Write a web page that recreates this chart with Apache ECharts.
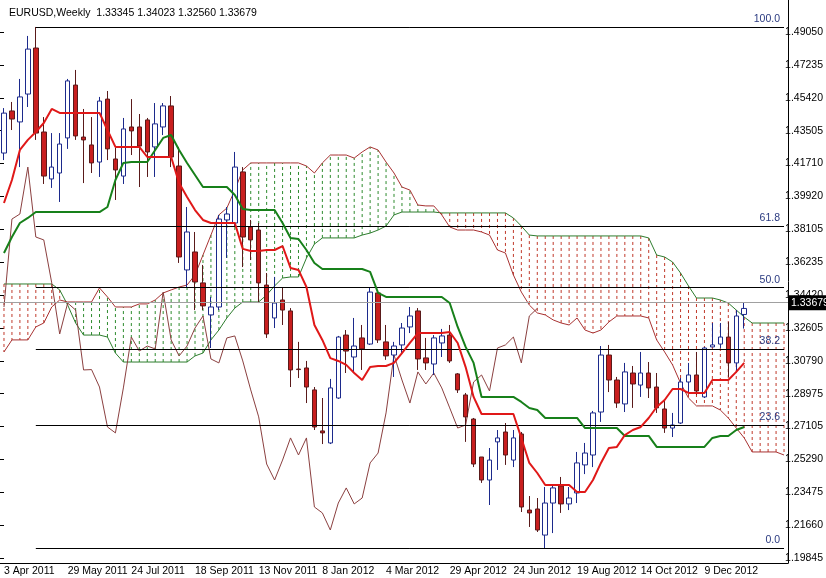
<!DOCTYPE html>
<html>
<head>
<meta charset="utf-8">
<script src="https://cdn.jsdelivr.net/npm/echarts@6/dist/echarts.min.js"></script>
<style>
  html, body { margin: 0; padding: 0; background: #fff; }
  #main { width: 826px; height: 578px; }
</style>
</head>
<body>
<div id="main"></div>
<script>
// weekly EURUSD, bar 0 = 3 Apr 2011
var opens = [1.4232,1.4466,1.4405,1.4560,1.4816,1.4349,1.4088,1.4121,1.4316,1.4610,1.4321,1.4277,1.4182,1.4532,1.4199,1.4104,1.4377,1.4377,1.4416,1.4266,
  1.4377,1.4494,1.4160,1.3582,1.3682,1.3510,1.3332,1.3376,1.3860,1.3843,1.4127,1.3821,1.3804,1.3498,1.3315,1.3415,1.3354,1.3031,1.3037,1.2915,
  1.2687,1.2620,1.2870,1.3220,1.3098,1.3204,1.3170,1.3454,1.3182,1.3109,1.3165,1.3265,1.3354,1.3093,1.3059,1.3176,1.3220,1.3004,1.2887,1.2753,
  1.2542,1.2414,1.2626,1.2681,1.2525,1.2670,1.2247,1.2253,1.2108,1.2286,1.2381,1.2281,1.2342,1.2498,1.2553,1.2792,1.3109,1.2970,1.2837,1.3009,
  1.2942,1.3009,1.2931,1.2809,1.2703,1.2731,1.2959,1.2998,1.2876,1.3154,1.3170,1.3209,1.3065,1.33345];
var closes = [1.4454,1.4421,1.4544,1.4810,1.4343,1.4104,1.4154,1.4282,1.4633,1.4327,1.4305,1.4177,1.4521,1.4255,1.4138,1.4366,1.4355,1.4271,1.4238,1.4394,
  1.4494,1.4210,1.3654,1.3793,1.3515,1.3382,1.3376,1.3865,1.3893,1.4154,1.3765,1.3749,1.3510,1.3226,1.3398,1.3359,1.3026,1.3028,1.2931,1.2709,
  1.2676,1.2926,1.3209,1.3131,1.3159,1.3143,1.3459,1.3193,1.3104,1.3159,1.3259,1.3326,1.3087,1.3065,1.3204,1.3215,1.3076,1.2915,1.2765,1.2503,
  1.2414,1.2525,1.2648,1.2553,1.2648,1.2264,1.2231,1.2136,1.2286,1.2370,1.2281,1.2314,1.2509,1.2564,1.2787,1.3109,1.2970,1.2842,1.3015,1.2948,
  1.3009,1.2926,1.2815,1.2703,1.2720,1.2959,1.2998,1.2909,1.3148,1.3165,1.3209,1.3065,1.3326,1.33679];
var lows = [1.4193,1.4360,1.4154,1.4488,1.4305,1.4060,1.4038,1.3960,1.4255,1.4305,1.4065,1.4121,1.4099,1.4193,1.3971,1.4060,1.4221,1.4043,1.4099,1.4099,
  1.4332,1.4154,1.3621,1.3487,1.3359,1.3359,1.3148,1.3359,1.3649,1.3821,1.3598,1.3637,1.3398,1.3204,1.3259,1.3276,1.2931,1.2981,1.2842,1.2692,
  1.2614,1.2614,1.2865,1.3009,1.3015,1.3026,1.3165,1.3176,1.3082,1.2987,1.3120,1.3231,1.3026,1.3026,1.2998,1.3098,1.3065,1.2898,1.2626,1.2486,
  1.2398,1.2275,1.2470,1.2498,1.2486,1.2236,1.2153,1.2125,1.2036,1.2119,1.2231,1.2247,1.2286,1.2447,1.2486,1.2737,1.2903,1.2815,1.2792,1.2815,
  1.2876,1.2870,1.2787,1.2676,1.2653,1.2726,1.2898,1.2887,1.2870,1.3154,1.3148,1.2987,1.3020,1.32560];
var highs = [1.4482,1.4516,1.4644,1.4883,1.4933,1.4432,1.4343,1.4343,1.4644,1.4694,1.4477,1.4432,1.4544,1.4577,1.4260,1.4427,1.4532,1.4449,1.4427,1.4510,
  1.4510,1.4549,1.4266,1.3932,1.3793,1.3610,1.3432,1.3888,1.3932,1.4238,1.4154,1.3860,1.3843,1.3565,1.3543,1.3487,1.3370,1.3182,1.3076,1.2931,
  1.2870,1.2976,1.3215,1.3248,1.3315,1.3276,1.3482,1.3459,1.3276,1.3182,1.3287,1.3376,1.3370,1.3204,1.3220,1.3254,1.3276,1.3009,1.2898,1.2759,
  1.2542,1.2592,1.2692,1.2731,1.2692,1.2681,1.2325,1.2314,1.2375,1.2386,1.2431,1.2375,1.2570,1.2620,1.2798,1.3159,1.3165,1.2987,1.3065,1.3048,
  1.3126,1.3070,1.3009,1.2859,1.2787,1.2981,1.3065,1.3126,1.3154,1.3287,1.3287,1.3293,1.3359,1.34023];

var tenkan = [1.3954,1.4082,1.4249,1.4305,1.4349,1.4399,1.4477,1.4455,1.4455,1.4455,1.4455,1.4455,1.4455,1.4360,1.4266,1.4266,1.4266,1.4266,1.4210,1.4210,
  1.4210,1.4210,1.4065,1.3988,1.3915,1.3860,1.3843,1.3843,1.3843,1.3843,1.3699,1.3687,1.3687,1.3693,1.3693,1.3715,1.3593,1.3582,1.3487,1.3276,
  1.3193,1.3092,1.3076,1.3054,1.3009,1.2970,1.3042,1.3048,1.3048,1.3065,1.3120,1.3176,1.3231,1.3231,1.3231,1.3231,1.3237,1.3176,1.3042,1.2876,
  1.2781,1.2781,1.2781,1.2781,1.2781,1.2648,1.2509,1.2453,1.2386,1.2386,1.2386,1.2386,1.2347,1.2347,1.2414,1.2509,1.2592,1.2598,1.2664,1.2692,
  1.2709,1.2759,1.2820,1.2859,1.2920,1.2920,1.2898,1.2898,1.2898,1.2970,1.2970,1.2970,1.3015,1.3065];
var kijun = [1.3676,1.3765,1.3843,1.3871,1.3904,1.3904,1.3904,1.3904,1.3904,1.3904,1.3904,1.3904,1.3904,1.3932,1.4082,1.4177,1.4182,1.4182,1.4182,1.4249,
  1.4316,1.4332,1.4249,1.4177,1.4110,1.4043,1.4043,1.4043,1.4043,1.3999,1.3921,1.3915,1.3915,1.3915,1.3915,1.3843,1.3760,1.3754,1.3693,1.3621,
  1.3587,1.3587,1.3587,1.3587,1.3587,1.3587,1.3571,1.3454,1.3432,1.3432,1.3432,1.3432,1.3432,1.3432,1.3432,1.3432,1.3398,1.3265,1.3154,1.3065,
  1.2876,1.2876,1.2876,1.2876,1.2876,1.2848,1.2814,1.2803,1.2759,1.2759,1.2759,1.2759,1.2759,1.2703,1.2703,1.2703,1.2703,1.2703,1.2659,1.2659,
  1.2659,1.2659,1.2598,1.2598,1.2598,1.2598,1.2598,1.2598,1.2598,1.2648,1.2659,1.2659,1.2692,1.2709];
// cloud edges, shifted 5 bars past the last candle
var spanGreen = [1.3504,1.3504,1.3504,1.3504,1.3504,1.3504,1.3504,1.3471,1.3387,1.3287,1.3220,1.3220,1.3220,1.3209,1.3120,1.3070,1.3070,1.3070,1.3070,1.3070,
  1.3070,1.3070,1.3070,1.3070,1.3104,1.3120,1.3193,1.3248,1.3315,1.3370,1.3404,1.3404,1.3404,1.3443,1.3493,1.3537,1.3543,1.3543,1.3648,1.3726,
  1.3760,1.3760,1.3760,1.3760,1.3760,1.3776,1.3787,1.3804,1.3826,1.3888,1.3904,1.3904,1.3904,1.3904,1.3904,1.3899,1.3899,1.3899,1.3899,1.3899,
  1.3899,1.3899,1.3899,1.3899,1.3871,1.3826,1.3776,1.3771,1.3771,1.3771,1.3771,1.3771,1.3771,1.3771,1.3771,1.3771,1.3771,1.3771,1.3771,1.3771,
  1.3771,1.3760,1.3665,1.3654,1.3626,1.3565,1.3493,1.3426,1.3426,1.3426,1.3415,1.3398,1.3359,1.3320,1.3287,1.3287,1.3287,1.3287,1.3287];
var spanRed = [1.3126,1.3193,1.3193,1.3193,1.3265,1.3287,1.3376,1.3415,1.3404,1.3404,1.3404,1.3404,1.3482,1.3432,1.3376,1.3376,1.3376,1.3393,1.3393,1.3415,
  1.3454,1.3471,1.3487,1.3498,1.3554,1.3665,1.3776,1.3888,1.3926,1.4026,1.4138,1.4177,1.4177,1.4177,1.4177,1.4177,1.4177,1.4177,1.4160,1.4121,
  1.4177,1.4221,1.4221,1.4221,1.4204,1.4238,1.4266,1.4249,1.4182,1.4121,1.4043,1.4026,1.3943,1.3938,1.3938,1.3888,1.3821,1.3804,1.3804,1.3804,
  1.3793,1.3776,1.3693,1.3676,1.3554,1.3459,1.3387,1.3343,1.3332,1.3304,1.3287,1.3276,1.3315,1.3248,1.3231,1.3248,1.3293,1.3326,1.3326,1.3326,
  1.3326,1.3315,1.3193,1.3126,1.3054,1.2953,1.2870,1.2826,1.2826,1.2826,1.2803,1.2759,1.2703,1.2648,1.2570,1.2570,1.2570,1.2570,1.2553];

var fibLevels = [0, 23.6, 38.2, 50, 61.8, 100];
var fibPrices = [1.2036, 1.2720, 1.3143, 1.3485, 1.3826, 1.4933];
var dateLabels = ['3 Apr 2011','29 May 2011','24 Jul 2011','18 Sep 2011','13 Nov 2011','8 Jan 2012',
  '4 Mar 2012','29 Apr 2012','24 Jun 2012','19 Aug 2012','14 Oct 2012','9 Dec 2012'];
var priceLabels = ['1.19845','1.21660','1.23475','1.25290','1.27105','1.28975','1.30790','1.32605','1.34420',
  '1.36235','1.38105','1.39920','1.41710','1.43505','1.45420','1.47235','1.49050'];
var lastPrice = 1.33679;
var header = 'EURUSD,Weekly  1.33345 1.34023 1.32560 1.33679';

var nBars = spanGreen.length;
var cats = [];
for (var i = 0; i < nBars; i++) cats.push(i);

var candles = opens.map(function (o, i) { return [o, closes[i], lows[i], highs[i]]; });
var chikou = closes.slice(26);
var cloud = spanGreen.map(function (g, i) { return [i, g, spanRed[i]]; });

var fibLines = fibPrices.map(function (p, i) {
  return [{ coord: [4, p], label: { formatter: fibLevels[i].toFixed(1) } }, { coord: [nBars - 1, p] }];
});

var txt = { fontFamily: 'Liberation Sans', fontSize: 10.5, color: '#000' };

var myChart = echarts.init(document.getElementById('main'));
myChart.setOption({
  animation: false,
  backgroundColor: '#fff',
  title: { text: header, left: 4, top: 3, textStyle: { fontFamily: 'Liberation Sans', fontSize: 10.5, fontWeight: 'normal', color: '#000' } },
  grid: [
    { left: -4, right: 38, top: 0, bottom: 15 },
    { left: -4, right: 38, top: 32, bottom: 20 }
  ],
  xAxis: [{
    type: 'category', data: cats, boundaryGap: true, gridIndex: 0,
    axisLine: { lineStyle: { color: '#000' } },
    axisTick: { length: 4, interval: function (i) { return i % 8 === 0; }, alignWithLabel: true, lineStyle: { color: '#000' } },
    axisLabel: Object.assign({ interval: function (i) { return i % 8 === 0; }, align: 'left', margin: 3,
      formatter: function (v, i) { return dateLabels[i / 8] || ''; } }, txt)
  }, {
    type: 'value', gridIndex: 1, show: false
  }],
  yAxis: [{
    type: 'value', gridIndex: 0, position: 'right', min: 1.19526, max: 1.50829, scale: true,
    axisLine: { show: true, lineStyle: { color: '#000' } }, axisTick: { show: false },
    axisLabel: { show: false }, splitLine: { show: false }
  }, {
    type: 'category', gridIndex: 1, position: 'right', data: priceLabels, boundaryGap: false,
    axisLine: { show: false },
    axisTick: { show: true, length: 4, lineStyle: { color: '#000' } },
    axisLabel: Object.assign({ margin: 3 }, txt)
  }],
  series: [
    {
      type: 'custom', name: 'cloud', data: cloud, silent: true, z: 1,
      renderItem: function (params, api) {
        var a = api.coord([api.value(0), api.value(1)]);
        var b = api.coord([api.value(0), api.value(2)]);
        return {
          type: 'line', shape: { x1: a[0], y1: a[1], x2: b[0], y2: b[1] },
          style: { stroke: api.value(1) > api.value(2) ? '#c0392b' : '#2e8b2e', lineWidth: 1, lineDash: [3, 3] }
        };
      }
    },
    { type: 'line', data: spanGreen, symbol: 'none', lineStyle: { color: '#2e7d2e', width: 1 }, z: 2 },
    { type: 'line', data: spanRed, symbol: 'none', lineStyle: { color: '#a83232', width: 1 }, z: 2 },
    { type: 'line', data: chikou, symbol: 'none', lineStyle: { color: '#8b4040', width: 1 }, z: 2 },
    {
      type: 'line', data: [], markLine: {
        silent: true, symbol: 'none',
        lineStyle: { color: '#000', width: 1, type: 'solid' },
        label: { position: 'insideEndTop', color: '#2a3a80', fontFamily: 'Liberation Sans', fontSize: 10.5, distance: [4, 2] },
        data: fibLines
      }
    },
    {
      type: 'candlestick', data: candles, barWidth: 5, z: 4,
      itemStyle: { color: '#fff', color0: '#c81e1e', borderColor: '#1c2a8c', borderColor0: '#5a1a1a', borderWidth: 1 },
      markLine: {
        silent: true, symbol: 'none',
        lineStyle: { color: '#a0a0a0', width: 1, type: 'solid' },
        label: { position: 'end', formatter: lastPrice.toFixed(5), backgroundColor: '#000', color: '#fff',
          fontFamily: 'Liberation Sans', fontSize: 10.5, padding: [2, 2], distance: 1 },
        data: [{ yAxis: lastPrice }]
      }
    },
    { type: 'line', data: kijun, symbol: 'none', lineStyle: { color: '#17801a', width: 2 }, z: 5 },
    { type: 'line', data: tenkan, symbol: 'none', lineStyle: { color: '#e01818', width: 2 }, z: 6 }
  ]
});
</script>
</body>
</html>
